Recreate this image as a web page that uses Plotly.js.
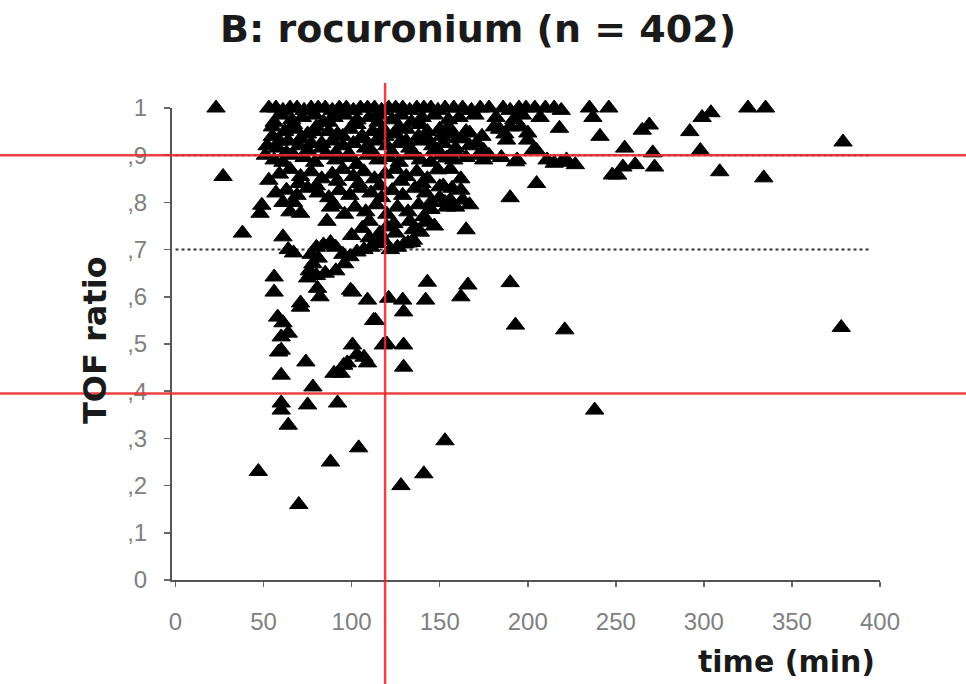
<!DOCTYPE html>
<html><head><meta charset="utf-8">
<script src="https://cdn.plot.ly/plotly-3.0.1.min.js"></script>
<style>html,body{margin:0;padding:0;background:#fff}</style>
</head><body>
<div id="chart" style="width:966px;height:684px"></div>
<script>
const timeMin = [
  53,57,61,65,69,73,77,81,85,89,
  93,97,101,105,109,113,117,121,125,129,
  133,137,141,145,149,153,158,163,168,173,
  178,186,190,195,199,204,210,215,219,235,
  246,325,335,23,
  56,60,66,72,79,84,90,96,103,110,
  116,123,128,134,140,147,155,161,170,182,
  192,197,207,218,237,304,299,241,265,269,
  292,196,
  55,62,68,75,80,87,92,99,106,112,
  118,125,131,138,143,150,157,165,174,188,
  200,184,167,171,190,200,
  52,58,64,70,77,83,89,95,101,108,
  114,120,127,133,139,146,152,159,167,203,
  255,298,379,160,175,205,
  51,56,61,67,73,79,85,91,97,103,
  109,115,121,127,133,139,145,151,158,165,
  172,178,185,194,215,219,222,227,271,272,
  254,248,261,154,175,193,211,251,309,334,
  53,59,65,71,77,83,89,95,101,107,
  113,119,125,131,137,143,149,156,162,27,
  205,150,
  57,63,69,75,81,87,93,99,105,111,
  117,123,129,136,142,150,157,163,167,190,
  162,
  49,48,67,71,88,90,96,102,108,114,
  120,126,132,138,145,153,159,156,154,141,
  145,61,65,
  38,116,120,135,139,142,165,100,106,110,
  125,147,133,124,61,135,
  64,67,77,80,84,88,91,81,78,76,
  80,85,91,96,99,95,103,107,111,115,
  118,122,126,130,134,56,75,132,
  71,58,61,60,58.5,60,74,78,60,75,
  92,94,97.5,100.5,107,109,113.5,109,100.5,82,
  80.6,121,129,129.5,118,129.5,129.5,143,142,166,
  162,64,60,64,90,95.5,103,71,99.4,112.5,
  60,190,56,120,
  47,70,88,104,128,141,153,238,378,221,
  193,
  55,59,63,67,71,75,79,83,87,91,
  95,99,103,107,111,115,119,123,127,131,
  135,139,143,147,151,155,159,163,181,187,
  70,80,92,104,116,128,140,152,86,110
];
const tofRatio = [
  1,1,0.995,1,1,0.995,1,1,1,0.995,
  1,1,0.995,1,1,1,0.995,1,1,1,
  0.995,1,1,1,0.995,1,1,1,0.995,1,
  1,1,0.995,1,1,1,1,1,0.995,1,
  1,1,1,1,
  0.97,0.985,0.975,0.98,0.985,0.97,0.98,0.985,0.975,0.98,
  0.985,0.975,0.985,0.97,0.98,0.985,0.975,0.98,0.985,0.98,
  0.975,0.985,0.98,0.957,0.98,0.99,0.98,0.94,0.953,0.964,
  0.95,0.96,
  0.94,0.95,0.955,0.945,0.96,0.95,0.945,0.955,0.94,0.95,
  0.955,0.945,0.955,0.94,0.95,0.955,0.945,0.95,0.94,0.932,
  0.932,0.955,0.947,0.926,0.96,0.947,
  0.92,0.915,0.93,0.92,0.925,0.915,0.93,0.92,0.925,0.915,
  0.93,0.92,0.925,0.915,0.93,0.92,0.925,0.915,0.92,0.91,
  0.915,0.91,0.928,0.935,0.91,0.91,
  0.9,0.89,0.885,0.9,0.895,0.885,0.9,0.89,0.895,0.88,
  0.9,0.89,0.895,0.885,0.9,0.89,0.885,0.9,0.89,0.895,
  0.9,0.9,0.895,0.89,0.883,0.885,0.89,0.88,0.905,0.875,
  0.875,0.858,0.88,0.894,0.89,0.886,0.89,0.858,0.865,0.852,
  0.847,0.86,0.87,0.855,0.865,0.85,0.86,0.87,0.855,0.865,
  0.85,0.86,0.87,0.855,0.865,0.85,0.869,0.87,0.85,0.855,
  0.84,0.833,
  0.82,0.826,0.815,0.83,0.82,0.81,0.825,0.815,0.83,0.82,
  0.81,0.825,0.815,0.83,0.82,0.81,0.83,0.805,0.795,0.81,
  0.826,
  0.794,0.777,0.8,0.777,0.79,0.795,0.775,0.79,0.78,0.795,
  0.775,0.79,0.78,0.795,0.785,0.8,0.79,0.805,0.79,0.77,
  0.8,0.8,0.78,
  0.735,0.735,0.748,0.72,0.737,0.758,0.742,0.73,0.745,0.725,
  0.735,0.75,0.76,0.755,0.727,0.742,
  0.70,0.693,0.69,0.705,0.71,0.715,0.705,0.682,0.67,0.655,
  0.645,0.65,0.655,0.67,0.685,0.69,0.695,0.70,0.705,0.713,
  0.72,0.70,0.705,0.712,0.715,0.642,0.64,0.714,
  0.587,0.557,0.545,0.515,0.483,0.434,0.462,0.409,0.375,0.371,
  0.375,0.438,0.46,0.498,0.472,0.46,0.55,0.593,0.61,0.60,
  0.618,0.597,0.593,0.568,0.498,0.498,0.451,0.631,0.593,0.625,
  0.60,0.523,0.487,0.328,0.438,0.455,0.477,0.578,0.614,0.55,
  0.36,0.63,0.61,0.50,
  0.23,0.16,0.25,0.28,0.2,0.225,0.295,0.36,0.535,0.53,
  0.54,
  0.96,0.93,0.905,0.965,0.935,0.91,0.95,0.925,0.97,0.905,
  0.94,0.9,0.965,0.935,0.91,0.97,0.94,0.905,0.96,0.93,
  0.905,0.965,0.935,0.91,0.94,0.96,0.905,0.935,0.96,0.945,
  0.84,0.835,0.845,0.84,0.835,0.845,0.84,0.835,0.76,0.76
];

const xTickVals = [0,50,100,150,200,250,300,350,400];
const yTickVals = [0,0.1,0.2,0.3,0.4,0.5,0.6,0.7,0.8,0.9,1];
const yTickText = ['0',',1',',2',',3',',4',',5',',6',',7',',8',',9','1'];
const refTime = [119];          // red vertical reference
const refTof = [0.9, 0.395];    // red horizontal references
const dottedTof = [0.9, 0.7];   // black dotted references
const dottedSpan = [0, 395];

const xRange = [-2, 400];
const yRange = [0, 1];
const W = 966, H = 684, M = {l:172, r:86, t:108, b:104};
const PW = W - M.l - M.r, PH = H - M.t - M.b;
const xp = v => (v - xRange[0]) / (xRange[1] - xRange[0]);
const yp = v => (v - yRange[0]) / (yRange[1] - yRange[0]);
const pxX = px => (px - M.l) / PW;
const pxY = py => (H - M.b - py) / PH;

const red = 'rgba(232,45,45,0.9)';
const shapes = [];
dottedTof.forEach(v => shapes.push({type:'line', xref:'x', yref:'y', x0:dottedSpan[0], x1:dottedSpan[1], y0:v, y1:v,
  line:{color:'#333', width:2, dash:'dot'}, layer:'below'}));
refTof.forEach(v => shapes.push({type:'line', xref:'paper', yref:'paper', x0:pxX(0), x1:pxX(W), y0:yp(v), y1:yp(v),
  line:{color:red, width:2.5}, layer:'above'}));
refTime.forEach(v => shapes.push({type:'line', xref:'paper', yref:'paper', x0:xp(v), x1:xp(v), y0:pxY(H), y1:pxY(83),
  line:{color:red, width:2.5}, layer:'above'}));

const trace = {
  type:'scatter', mode:'markers', x: timeMin, y: tofRatio, cliponaxis:false,
  marker:{symbol:'triangle-up', size:16, color:'#000', line:{color:'#000', width:1}}, hoverinfo:'x+y'
};

const tickFont = {family:'"Liberation Sans", Arial, sans-serif', size:24, color:'#808080'};
const boldFont = s => ({family:'"DejaVu Sans", sans-serif', size:s, color:'#1a1a1a', weight:700});

const layout = {
  width:W, height:H, margin:M, paper_bgcolor:'#fff', plot_bgcolor:'#fff', showlegend:false,
  xaxis:{range:xRange, tickvals:xTickVals, ticks:'outside', ticklen:5, tickwidth:1.5, tickcolor:'#666',
    showline:true, linecolor:'#555', linewidth:2, showgrid:false, zeroline:false,
    tickfont:tickFont, ticklabelstandoff:14},
  yaxis:{range:yRange, tickvals:yTickVals, ticktext:yTickText, ticks:'outside', ticklen:6, tickwidth:1.5, tickcolor:'#666',
    showline:true, linecolor:'#555', linewidth:2, showgrid:false, zeroline:false,
    tickfont:tickFont, ticklabelstandoff:12},
  shapes: shapes,
  annotations:[
    {text:'B: rocuronium (n = 402)', xref:'paper', yref:'paper', x:pxX(478), y:pxY(29), xanchor:'center', yanchor:'middle',
      showarrow:false, font:boldFont(38)},
    {text:'time (min)', xref:'paper', yref:'paper', x:pxX(786), y:pxY(661), xanchor:'center', yanchor:'middle',
      showarrow:false, font:boldFont(30)},
    {text:'TOF ratio', xref:'paper', yref:'paper', x:pxX(95), y:pxY(340), xanchor:'center', yanchor:'middle',
      textangle:-90, showarrow:false, font:boldFont(32)}
  ]
};

Plotly.newPlot('chart', [trace], layout, {displayModeBar:false, staticPlot:true});
</script>
</body></html>
